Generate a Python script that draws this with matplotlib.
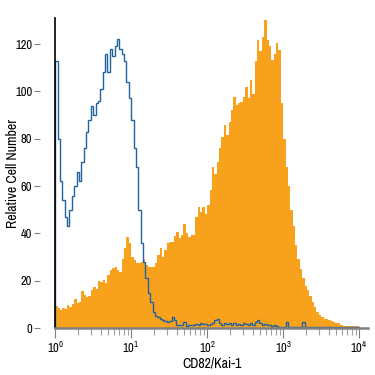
import numpy as np
import matplotlib.pyplot as plt
from matplotlib import font_manager

# 32 bins per decade, from 10^0 to 10^4
n_bins = 128
decades = (0, 4)

kai1_counts = [
    9.3, 8.5, 7.5, 8.5, 8.0, 9.7, 9.0, 10.0, 12.5, 10.5,
    11.0, 15.5, 14.0, 13.0, 13.5, 16.0, 17.5, 16.5, 20.0, 19.6,
    20.3, 19.0, 22.4, 24.5, 25.5, 25.9, 24.5, 23.8, 29.0, 34.0,
    38.6, 36.0, 30.0, 28.7, 27.5, 27.3, 28.0, 29.4, 26.6, 26.0,
    25.9, 26.0, 27.3, 30.8, 34.0, 30.0, 33.0, 36.0, 36.5, 36.5,
    39.0, 40.7, 38.0, 39.3, 44.0, 40.0, 38.6, 39.3, 39.5, 47.0,
    51.0, 49.0, 51.3, 48.4, 52.0, 58.3, 68.0, 65.3, 70.0, 76.0,
    80.8, 85.7, 81.5, 87.0, 92.0, 97.7, 94.2, 95.0, 95.6, 97.7,
    102.0, 97.0, 104.7, 99.0, 113.0, 121.7, 117.0, 123.0, 130.0, 121.7,
    119.0, 113.2, 116.0, 120.3, 117.5, 95.0, 80.0, 68.0, 60.0, 50.0,
    43.0, 35.0, 29.0, 25.0, 21.0, 18.0, 16.0, 13.5, 11.0, 9.0,
    6.9, 5.5, 4.5, 4.0, 3.8, 3.5, 3.0, 2.5, 2.2, 2.0,
    1.3, 1.0, 0.9, 0.8, 0.8, 0.8, 0.7, 0.7,
]

isotype_counts = [
    113, 80, 62, 54, 47, 43, 50, 56, 60, 66,
    62, 70, 76, 83, 88, 94, 90, 95, 96, 101,
    108, 116, 108, 118, 115, 119, 122, 118, 116, 113,
    104, 97, 88, 76, 68, 50, 36, 28, 21, 15,
    11, 7, 5, 4.5, 4, 3.5, 3, 2.5, 3, 4.5,
    3.5, 1.5, 1.2, 1.5, 2.5, 1.0, 1.5, 1.2, 1.5, 1.8,
    1.5, 2.0, 1.6, 1.8, 1.5, 1.8, 2.0, 3.5, 4.0, 2.0,
    1.5, 2.2, 1.6, 2.0, 1.5, 2.0, 1.5, 1.8, 1.5, 2.0,
    1.7, 1.5, 2.0, 1.5, 2.5, 3.5, 2.0, 1.5, 1.8, 1.5,
    1.2, 1.0, 1.3, 0.8, 0.5, 0.4, 0.4, 2.5, 0.5, 0.3,
    0.3, 0.3, 0.3, 0.3, 2.5, 0.3, 0.3, 0.3, 0.3, 0.3,
    0.3, 0.3, 0.3, 0.3, 0.3, 0.3, 0.3, 0.3, 0.3, 0.3,
    0.3, 0.3, 0.3, 0.3, 0.3, 0.3, 0.3, 0.3,
]

y_ticks = [0, 20, 40, 60, 80, 100, 120]
x_ticks = [1, 10, 100, 1000, 10000]
x_tick_labels = ['$10^0$', '$10^1$', '$10^2$', '$10^3$', '$10^4$']

# look for a narrow / condensed face, the reference uses a condensed font
narrow_name, narrow_stretch = None, 'normal'
for f in font_manager.fontManager.ttflist:
    st = str(f.stretch)
    if 'Narrow' in f.name or 'Condensed' in f.name or st in ('condensed', 'semi-condensed', '75', '87'):
        narrow_name, narrow_stretch = f.name, f.stretch
        if 'Narrow' in f.name:
            break

if narrow_name:
    plt.rcParams['font.family'] = [narrow_name, 'DejaVu Sans']
    plt.rcParams['font.stretch'] = narrow_stretch
    plt.rcParams['mathtext.fontset'] = 'custom'
    plt.rcParams['mathtext.rm'] = narrow_name
    plt.rcParams['mathtext.it'] = narrow_name

edges = np.logspace(decades[0], decades[1], n_bins + 1)

fig = plt.figure(figsize=(3.75, 3.75), dpi=100)
ax = fig.add_axes([0.147, 0.125, 0.835, 0.827])

ax.stairs(kai1_counts, edges, fill=True, color='#f7a11c', linewidth=0)
ax.stairs(isotype_counts, edges, color='#1f64a0', linewidth=1.0)

ax.set_xscale('log')
ax.set_xlim(1, 10 ** 4.12)
ax.set_ylim(0, 131)
ax.set_xticks(x_ticks)
ax.set_xticklabels(x_tick_labels)
ax.set_yticks(y_ticks)

# y ticks sit a little apart from the black axis line
for side in ['top', 'right']:
    ax.spines[side].set_visible(False)
ax.spines['left'].set_position(('outward', 11))
ax.spines['left'].set_visible(False)
ax.axvline(1, color='black', linewidth=1.2, clip_on=False)
ax.spines['bottom'].set_color('#808080')
ax.spines['bottom'].set_linewidth(1.8)

ax.tick_params(axis='y', direction='out', length=4, width=0.8, color='#808080',
               labelsize=9, pad=1.5)
ax.tick_params(axis='x', which='major', direction='out', length=7, width=0.8,
               color='#808080', labelsize=9, pad=1.5)
ax.tick_params(axis='x', which='minor', direction='out', length=5, width=0.8,
               color='#a0a0a0')

ax.set_ylabel('Relative Cell Number', fontsize=10, fontweight='bold')
ax.yaxis.set_label_coords(-0.112, 0.5)
ax.set_xlabel('CD82/Kai-1', fontsize=10, fontweight='bold', labelpad=1)

fig.savefig('out.png', dpi=100, facecolor='white')
